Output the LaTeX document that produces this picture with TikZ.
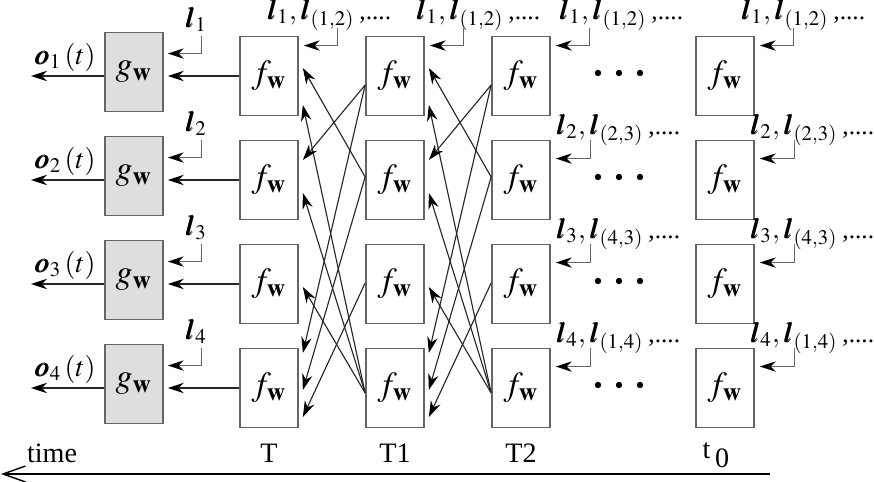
\documentclass[tikz,border=0pt]{standalone}
\usepackage{mathptmx}
\usepackage{bm}
\usepackage{fontspec}
\setmainfont{Liberation Serif}
\usetikzlibrary{arrows.meta,calc}

\tikzset{
  fbox/.style={draw=black!60, line width=0.6pt, fill=white, minimum width=7.25mm,
    minimum height=9.9mm, inner sep=0pt, font=\large},
  gbox/.style={fbox, fill=black!13},
  arr/.style={draw=black!85, line width=0.4pt,
    -{Stealth[length=2mm,width=1.3mm,color=black]}},
  inarr/.style={arr, draw=black!60},
}
\newcommand{\fw}{$f_{\mathbf{w}}$}
\newcommand{\gw}{$g_{\mathbf{w}}$}
\newcommand{\lin}[2]{$\bm{l}_{#1},\bm{l}_{(#2)}$\,{\small,....}}

\begin{document}
\begin{tikzpicture}[x=0.125mm, y=-0.125mm]
\useasboundingbox (0,0) rectangle (874,482);

% output units and the f_w columns
\foreach \i/\y in {1/72,2/176,3/280,4/384}
  \node[gbox] (g\i) at (134,\y) {\gw};
\foreach \c/\x in {A/269,B/395,C/521,D/725}
  \foreach \i/\y in {1/76,2/180,3/284,4/388}
    \node[fbox] (f\c\i) at (\x,\y) {\fw};

% f -> g -> outputs
\foreach \i in {1,...,4} {
  \coordinate (o\i) at (fA\i.west -| 31,0);
  \draw[arr, shorten >=0.5mm] (fA\i.west) -- (fA\i.west -| g\i.east);
  \draw[arr] (fA\i.west -| g\i.west) -- (o\i);
  \node (ol\i) at ($(o\i)+(34,-19)$) {$\bm{o}_{\i}\,(t)$};
  \node (lg\i) at ($(g\i.north)+(62,-12)$) {$\bm{l}_{\i}$};
  \draw[inarr] ($(g\i.north east)+(38,4)$) |- ($(g\i.north east)+(4,22)$);
}

% connections between the time steps
\foreach \s/\t in {fB/fA, fC/fB}
  \foreach \i/\di/\j/\dj in {4/5/1/29, 2/-3/1/-8, 1/9/2/-20, 4/5/2/13,
                             4/5/3/3, 1/9/4/-35, 2/-3/4/2, 3/-1/4/29}
    \draw[arr] ($(\s\i.west)+(0,\di)$) -- ($(\t\j.east)+(4,\dj)$);

% dots
\foreach \y in {73,177,281,385}
  \foreach \x in {598,619,640}
    \fill (\x,\y) circle (0.4mm);

% inputs
\foreach \c/\x in {A/329,B/478,C/621,D/803} {
  \node (l\c1) at (\x,15) {\lin{1}{1,2}};
  \draw[inarr] ($(f\c1.north east)+(39,-8)$) |- ($(f\c1.north east)+(5,10)$);
}
\foreach \c/\x in {C/618,D/812}
  \foreach \i/\p/\y in {2/{2,3}/130, 3/{4,3}/234, 4/{1,4}/338} {
    \node (l\c\i) at (\x,\y) {\lin{\i}{\p}};
    \draw[inarr] ($(f\c\i.north east)+(40,0)$) |- ($(f\c\i.north east)+(5,19)$);
  }

% time axis
\node (time) at (52,453) {time};
\node (tT) at (269,453) {T};
\node (tT1) at (395,453) {T1};
\node (tT2) at (521,453) {T2};
\node (tt0) at (716,455) {t\,\raisebox{-0.7ex}{0}};
\coordinate (tstart) at (770,474);
\coordinate (tend) at (1,474);
\draw[line width=0.5pt, -{Straight Barb[length=2.8mm,width=2mm]}] (tstart) -- (tend);
\end{tikzpicture}
\end{document}
